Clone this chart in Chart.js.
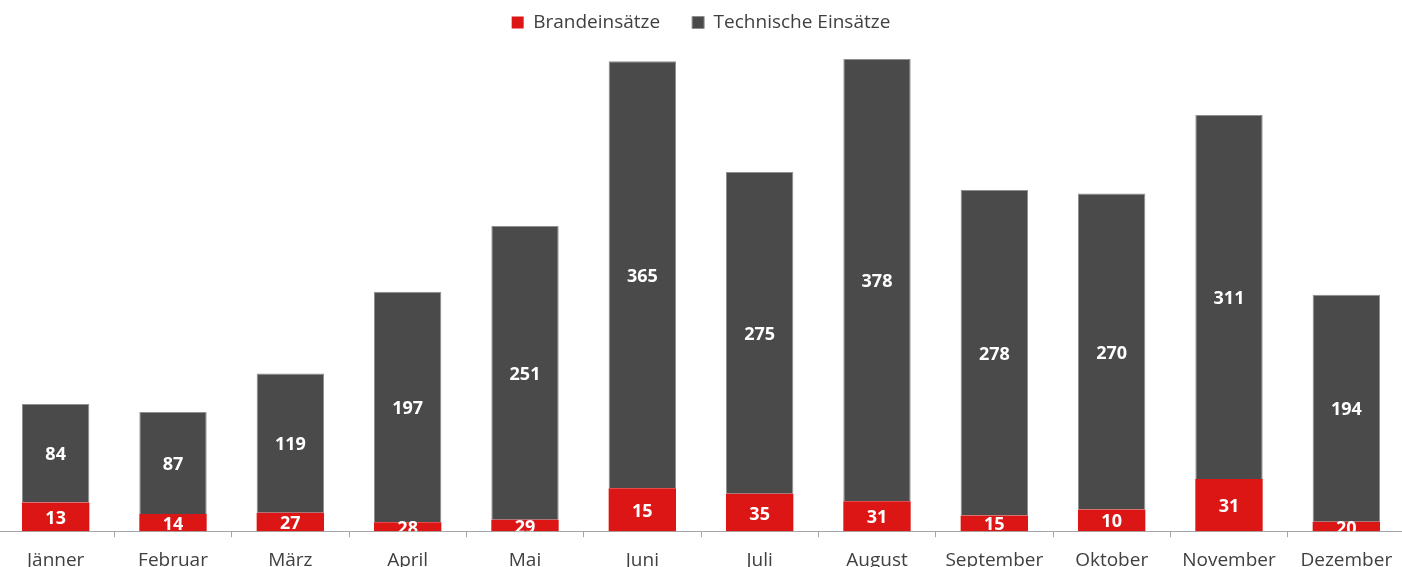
<!DOCTYPE html>
<html lang="de">
<head>
<meta charset="UTF-8">
<title>Einsätze pro Monat</title>
<script src="https://cdn.jsdelivr.net/npm/chart.js"></script>
<style>
  html, body { margin: 0; padding: 0; background: #fff; overflow: hidden; }
  #wrap { position: absolute; left: -3px; top: 0; width: 1408px; height: 584px; }
</style>
</head>
<body>
<div id="wrap"><canvas id="einsaetzeChart"></canvas></div>
<script>
// Months on the x axis
const months = ["Jänner", "Februar", "März", "April", "Mai", "Juni",
  "Juli", "August", "September", "Oktober", "November", "Dezember"];

// Technical missions (grey), labels match the drawn heights
const technischeEinsaetze = [84, 87, 119, 197, 251, 365, 275, 378, 278, 270, 311, 194];

// Fire missions (red): heights as drawn in the picture, and the numbers printed on them
const brandeinsaetze = [24.6, 14.8, 15.7, 7.7, 9.7, 36.6, 32.0, 25.5, 13.5, 18.6, 44.6, 8.0];
const brandeinsaetzeLabels = [13, 14, 27, 28, 29, 15, 35, 31, 15, 10, 31, 20];

const FONT = "'Open Sans', 'Noto Sans', sans-serif";

// draws the white numbers in the middle of every segment
const segmentLabels = {
  id: "segmentLabels",
  afterDatasetsDraw(chart) {
    const ctx = chart.ctx;
    const area = chart.chartArea;
    ctx.save();
    ctx.beginPath();
    ctx.rect(area.left, area.top, area.right - area.left, area.bottom - area.top);
    ctx.clip();
    ctx.font = "bold 18px " + FONT;
    ctx.fillStyle = "#ffffff";
    ctx.textAlign = "center";
    ctx.textBaseline = "middle";
    chart.data.datasets.forEach((ds, i) => {
      const meta = chart.getDatasetMeta(i);
      meta.data.forEach((bar, j) => {
        const p = bar.getProps(["x", "y", "base"], true);
        ctx.fillText(String(ds.labelValues[j]), p.x, (p.y + p.base) / 2 + 2);
      });
    });
    ctx.restore();
  }
};

new Chart(document.getElementById("einsaetzeChart"), {
  type: "bar",
  data: {
    labels: months,
    datasets: [
      {
        label: "Brandeinsätze",
        data: brandeinsaetze,
        labelValues: brandeinsaetzeLabels,
        backgroundColor: "#dc1515",
        borderWidth: 0,
        barPercentage: 0.574,
        categoryPercentage: 1
      },
      {
        label: "Technische Einsätze",
        data: technischeEinsaetze,
        labelValues: technischeEinsaetze,
        backgroundColor: "#4a4a4a",
        borderColor: "#8f8f8f",
        borderWidth: 1,
        barPercentage: 0.574,
        categoryPercentage: 1
      }
    ]
  },
  options: {
    responsive: true,
    maintainAspectRatio: false,
    animation: false,
    layout: { padding: { top: -19, left: 0, right: 0, bottom: 0 } },
    plugins: {
      tooltip: { enabled: false },
      legend: {
        position: "top",
        labels: {
          boxWidth: 12,
          boxHeight: 12,
          padding: 32,
          color: "#404040",
          font: { family: FONT, size: 19 }
        }
      }
    },
    scales: {
      x: {
        stacked: true,
        grid: {
          display: true,
          drawOnChartArea: false,
          drawTicks: true,
          tickLength: 6,
          color: "#a6a6a6",
          offset: true
        },
        border: { display: true, color: "#a6a6a6", width: 1 },
        ticks: {
          color: "#404040",
          font: { family: FONT, size: 19 },
          padding: 12,
          maxRotation: 0,
          autoSkip: false
        }
      },
      y: {
        stacked: true,
        display: false,
        min: 0,
        max: 418
      }
    }
  },
  plugins: [segmentLabels]
});
</script>
</body>
</html>
